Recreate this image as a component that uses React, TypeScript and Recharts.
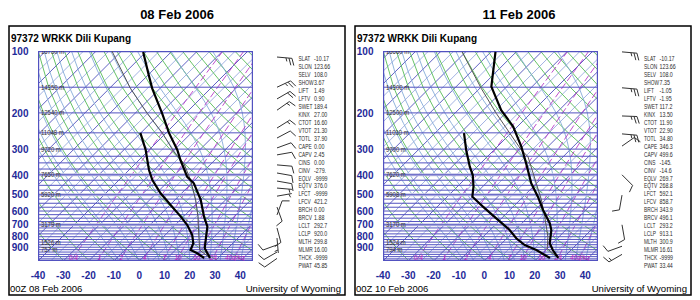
import React from 'react';
import { ComposedChart, Scatter, XAxis, YAxis } from 'recharts';

const FONT = '"Liberation Sans", Arial, Helvetica, sans-serif';

// ---------------- text content ----------------
const titles = ['08 Feb 2006', '11 Feb 2006'];
const stationName = '97372 WRKK Dili Kupang';
const footerLeft = ['00Z 08 Feb 2006', '00Z 10 Feb 2006'];
const footerRight = 'University of Wyoming';

const xTicks = [-40, -30, -20, -10, 0, 10, 20, 30, 40];
const pTicks = [100, 200, 300, 400, 500, 600, 700, 800, 900];

const indexNames = ['SLAT', 'SLON', 'SELV', 'SHOW', 'LIFT', 'LFTV', 'SWET', 'KINX', 'CTOT', 'VTOT', 'TOTL', 'CAPE', 'CAPV', 'CINS', 'CINV', 'EQLV', 'EQTV', 'LFCT', 'LFCV', 'BRCH', 'BRCV', 'LCLT', 'LCLP', 'MLTH', 'MLMR', 'THCK', 'PWAT'];
const feb08Indices = ['-10.17', '123.66', '108.0', '3.67', '1.49', '0.90', '189.4', '27.00', '16.60', '21.30', '37.90', '0.00', '2.45', '0.00', '-279.', '-9999', '376.0', '-9999', '421.2', '0.00', '1.88', '292.7', '920.0', '299.8', '16.00', '-9999', '45.85'];
const feb11Indices = ['-10.17', '123.66', '108.0', '7.35', '-1.05', '-1.95', '117.2', '13.50', '11.90', '22.90', '34.80', '346.3', '499.6', '-145.', '-14.6', '269.7', '268.8', '592.1', '858.7', '343.9', '496.1', '293.2', '913.1', '300.9', '16.61', '-9999', '33.44'];

// standard-level heights
const heightLevels = [100, 150, 200, 250, 300, 400, 500, 700, 850, 925];
const feb08Heights = ['16730 m', '14350 m', '12540 m', '11048 m', '9720 m', '7650 m', '5920 m', '3179 m', '1526 m', '757 m'];
const feb11Heights = ['16660 m', '14300 m', '12500 m', '11010 m', '9700 m', '7620 m', '5908 m', '3170 m', '1524 m', '794 m'];

// ---------------- soundings ----------------
const feb08TempP = [1015, 911, 830, 715, 639, 530, 440, 409, 339, 303, 251, 201, 152, 131, 101];
const feb08TempC = [26.8, 20.9, 18.0, 13.4, 8.1, 0.2, -9.1, -14.3, -23.6, -28.8, -38.7, -49.3, -63.1, -69.7, -81.1];
const feb08DewP = [1015, 963, 929, 861, 785, 702, 639, 561, 492, 424, 379, 339, 303, 250];
const feb08DewC = [24.5, 19.9, 16.0, 14.4, 10.7, 4.8, -1.1, -9.7, -18.3, -26.8, -32.1, -36.7, -41.3, -50.2];
const feb08ParcelP = [1015, 929, 800, 639, 530, 424, 355, 309, 251, 201, 152, 100];
const feb08ParcelC = [26.8, 19.6, 14.0, 5.7, -1.8, -11.7, -20.5, -29.5, -41.3, -55.2, -71.7, -93.8];

const feb11TempP = [1015, 929, 861, 742, 688, 593, 511, 440, 352, 292, 233, 194, 149, 101];
const feb11TempC = [28.1, 22.8, 18.9, 14.3, 11.0, 3.1, -4.2, -12.1, -22.0, -30.5, -41.7, -52.9, -66.1, -78.2];
const feb11DewP = [1015, 929, 878, 814, 742, 651, 571, 511, 457, 401, 365, 303, 251];
const feb11DewC = [24.8, 16.3, 9.7, 3.7, -2.2, -12.1, -22.0, -30.1, -33.6, -38.5, -43.0, -51.0, -58.5];
const feb11ParcelP = [1015, 913, 800, 639, 530, 440, 326, 303, 251, 201, 152, 101];
const feb11ParcelC = [28.1, 20.0, 15.6, 6.4, -1.5, -10.1, -24.0, -29.2, -40.4, -53.6, -69.4, -91.4];

// ---------------- winds ----------------
const feb08WindP = [107, 150, 171, 194, 237, 265, 296, 320, 358, 392, 429, 464, 508, 574, 627, 725, 812, 877, 950, 1020];
const feb08WindDir = [95, 65, 60, 55, 58, 62, 70, 80, 95, 100, 100, 95, 80, 160, 20, 165, 175, 250, 240, 235];
const feb08WindKt = [25, 25, 20, 15, 15, 10, 10, 10, 10, 10, 10, 5, 5, 10, 10, 10, 5, 10, 10, 10];
const feb11WindP = [101, 151, 207, 253, 290, 400, 502, 700, 890, 975];
const feb11WindDir = [95, 95, 92, 95, 55, 135, 190, 170, 250, 240];
const feb11WindKt = [25, 25, 25, 25, 10, 10, 10, 10, 10, 15];

// ---------------- diagram grid definitions ----------------
const SKEW = 81.3;
const P_BOTTOM = 1050;
const P_TOP = 100;
const X_MIN = -40;
const X_MAX = 45;
const isobarLevels = [100, 150, 200, 250, 300, 325, 350, 375, 400, 425, 450, 475, 500, 525, 550, 575, 600, 625, 650, 675, 700, 725, 750, 775, 800, 825, 850, 875, 900, 925, 950, 975, 1000, 1025, 1050];
const bandLevels = [400, 500, 700];
const isothermsMain = [-150, -140, -130, -120, -110, -100, -90, -80, -70, -60, -50, -40, -30, -20, -10, 0, 10, 20, 30, 40];
const isothermsHalf = [-145, -135, -125, -115, -105, -95, -85, -75, -65, -55, -45, -35, -25, -15, -5, 5, 15, 25, 35, 45];
const dryThetas = [230, 240, 250, 260, 270, 280, 290, 300, 310, 320, 330, 340, 350, 360, 370, 380, 390, 400, 410, 420, 430, 440, 450, 460, 470];
const moistStarts = [-8, -4, 0, 4, 8, 12, 16, 20, 24, 28, 32, 36, 40];
const mixRatios = [0.4, 1, 2, 4, 7, 10, 16, 24, 40];
const mixLabels = ['0.4', '1', '2', '4', '7', '10', '16', '24', '40g/kg'];
const gridLevels = isobarLevels;

type Pt = { x: number; p: number };
const skew = (t: number, p: number) => t + SKEW * Math.log10(P_BOTTOM / p);
const profile = (ps: number[], ts: number[]): Pt[] => ps.map((p, i) => ({ x: skew(ts[i], p), p }));

const dewFromMix = (w: number, p: number) => {
  const e = ((w / 1000) * p) / (0.622 + w / 1000);
  const l = Math.log(e / 6.112);
  return (243.5 * l) / (17.67 - l);
};
const moistLapse = (T: number, p: number) => {
  const tc = T - 273.15;
  const es = 6.112 * Math.exp((17.67 * tc) / (tc + 243.5));
  const rs = (0.622 * es) / Math.max(p - es, 1);
  return (287.04 * T + 2.501e6 * rs) / (p * (1005.7 + (2.501e6 * 2.501e6 * rs * 0.622) / (287.04 * T * T)));
};
const moistLine = (t0: number): Pt[] => {
  const pts: Pt[] = [{ x: skew(t0, P_BOTTOM), p: P_BOTTOM }];
  let T = t0 + 273.15;
  let p = P_BOTTOM;
  const dp = -5;
  while (p > P_TOP) {
    const k1 = moistLapse(T, p);
    const k2 = moistLapse(T + k1 * dp, p + dp);
    T += 0.5 * (k1 + k2) * dp;
    p += dp;
    if (p % 25 === 0) pts.push({ x: skew(T - 273.15, p), p });
  }
  return pts;
};

const isotherm = (t: number): Pt[] => [{ x: t, p: P_BOTTOM }, { x: skew(t, P_TOP), p: P_TOP }];
const dryLine = (th: number): Pt[] => gridLevels.map((p) => ({ x: skew(th * Math.pow(p / 1000, 0.2857) - 273.15, p), p }));
const mixLine = (w: number): Pt[] => gridLevels.map((p) => ({ x: skew(dewFromMix(w, p), p), p }));
const isobar = (p: number): Pt[] => [{ x: X_MIN, p }, { x: X_MAX, p }];

const COL_ISOBAR = '#5252c0';
const COL_ISO_DARK = '#3a3ab4';
const COL_ISO_LIGHT = '#a2b2e2';
const COL_DRY = '#58bc58';
const COL_MOIST = '#86acd8';
const COL_MIX = '#b430c4';
const COL_LABEL = '#1f2a99';

const Nothing = () => <g />;

const gridScatter = (pts: Pt[], key: string, stroke: string, width: number, dash?: string, opacity = 1) => (
  <Scatter
    key={key}
    data={pts}
    fill="none"
    line={{ stroke, strokeWidth: width, strokeDasharray: dash, strokeOpacity: opacity }}
    shape={Nothing}
    isAnimationActive={false}
  />
);

const XTick = (props: any) => {
  const { x, y, payload } = props;
  return (
    <text x={x} y={y + 18} textAnchor="middle" fontSize={10} fontWeight="bold" fill={COL_LABEL} fontFamily={FONT}>
      {payload.value}
    </text>
  );
};
const PTick = (props: any) => {
  const { x, y, payload } = props;
  return (
    <text x={x - 9.5} y={y + 3.7} textAnchor="end" fontSize={10} fontWeight="bold" fill={COL_LABEL} fontFamily={FONT}>
      {payload.value}
    </text>
  );
};

const HeightLabel = (props: any) => {
  const { cx, cy, payload } = props;
  if (cx == null || cy == null) return <g />;
  return (
    <text transform={`translate(${cx + 3},${cy + 2.5}) scale(0.85,1)`} fontSize={7} fill="#333" fontFamily={FONT}>
      {payload.label}
    </text>
  );
};
const MixLabel = (props: any) => {
  const { cx, cy, payload } = props;
  if (cx == null || cy == null) return <g />;
  return (
    <text x={cx} y={cy + 2.3} textAnchor="middle" fontSize={6.5} fontStyle="italic" fill="#c020c0" fontFamily={FONT}>
      {payload.label}
    </text>
  );
};

const BarbShape = (props: any) => {
  const { cx, cy, payload } = props;
  if (cx == null || cy == null) return <g />;
  const a = (payload.dir * Math.PI) / 180;
  const ux = Math.sin(a);
  const uy = -Math.cos(a);
  const px = -uy;
  const py = ux;
  const L = 15;
  const segs: number[][] = [[cx, cy, cx + ux * L, cy + uy * L]];
  let rem = payload.spd;
  let s = L;
  while (rem >= 10) {
    segs.push([cx + ux * s, cy + uy * s, cx + ux * (s + 2.5) + px * 7, cy + uy * (s + 2.5) + py * 7]);
    s -= 3;
    rem -= 10;
  }
  if (rem >= 5) {
    if (s === L) s -= 3;
    segs.push([cx + ux * s, cy + uy * s, cx + ux * (s + 1.2) + px * 3.5, cy + uy * (s + 1.2) + py * 3.5]);
  }
  return (
    <g stroke="#333" strokeWidth={1} fill="none">
      {segs.map((g, i) => (
        <line key={i} x1={g[0]} y1={g[1]} x2={g[2]} y2={g[3]} />
      ))}
    </g>
  );
};

type PanelProps = {
  left: number;
  temp: Pt[];
  dew: Pt[];
  parcel: Pt[];
  heights: string[];
  windP: number[];
  windDir: number[];
  windKt: number[];
};

const SkewPanel = ({ left, temp, dew, parcel, heights, windP, windDir, windKt }: PanelProps) => {
  const heightData = heightLevels.map((p, i) => ({ x: X_MIN, p, label: heights[i] }));
  const mixLabelData = mixRatios.map((w, i) => ({ x: skew(dewFromMix(w, 1010), 1010), p: 1010, label: mixLabels[i] }));
  const windData = windP.map((p, i) => ({ x: 0.5, p, dir: windDir[i], spd: windKt[i] }));
  return (
    <>
      <div style={{ position: 'absolute', left, top: 0, width: 350, height: 300 }}>
        <ComposedChart width={350} height={300} margin={{ top: 51, right: 97, bottom: 19, left: 8 }}>
          <XAxis
            type="number"
            dataKey="x"
            domain={[X_MIN, X_MAX]}
            allowDataOverflow
            ticks={xTicks}
            interval={0}
            height={20}
            axisLine={false}
            tickLine={false}
            tickSize={0}
            tickMargin={0}
            tick={(p: any) => <XTick {...p} />}
          />
          <YAxis
            type="number"
            dataKey="p"
            scale="log"
            domain={[P_TOP, P_BOTTOM]}
            reversed
            allowDataOverflow
            ticks={pTicks}
            interval={0}
            width={30}
            axisLine={false}
            tickLine={false}
            tickSize={0}
            tickMargin={0}
            tick={(p: any) => <PTick {...p} />}
          />
          {isothermsHalf.map((t) => gridScatter(isotherm(t), `ih${t}`, COL_ISO_LIGHT, 1))}
          {isothermsMain.map((t) => gridScatter(isotherm(t), `im${t}`, COL_ISO_DARK, 1, undefined, 0.8))}
          {dryThetas.map((th) => gridScatter(dryLine(th), `d${th}`, COL_DRY, 1, undefined, 0.9))}
          {moistStarts.map((t) => gridScatter(moistLine(t), `m${t}`, COL_MOIST, 1, undefined, 0.9))}
          {mixRatios.map((w) => gridScatter(mixLine(w), `w${w}`, COL_MIX, 1, '7 3', 0.85))}
          {bandLevels.map((p) => gridScatter(isobar(p), `b${p}`, '#c4c4e6', 3))}
          {isobarLevels.map((p) => gridScatter(isobar(p), `p${p}`, COL_ISOBAR, p === P_TOP || p === P_BOTTOM ? 2.4 : 1))}
          {gridScatter([{ x: X_MIN, p: P_BOTTOM }, { x: X_MIN, p: P_TOP }], 'eL', COL_ISOBAR, 2.4)}
          {gridScatter([{ x: X_MAX, p: P_BOTTOM }, { x: X_MAX, p: P_TOP }], 'eR', COL_ISOBAR, 2.4)}
          <Scatter data={heightData} shape={HeightLabel} isAnimationActive={false} />
          <Scatter data={mixLabelData} shape={MixLabel} isAnimationActive={false} />
          {gridScatter(parcel, 'parcel', '#555', 1)}
          {gridScatter(dew, 'dew', '#000', 2.2)}
          {gridScatter(temp, 'temp', '#000', 2.2)}
        </ComposedChart>
      </div>
      <div style={{ position: 'absolute', left: left + 257, top: 0, width: 40, height: 300 }}>
        <ComposedChart width={40} height={300} margin={{ top: 51, right: 0, bottom: 39, left: 0 }}>
          <XAxis type="number" dataKey="x" domain={[0, 1]} hide height={0} />
          <YAxis type="number" dataKey="p" scale="log" domain={[P_TOP, P_BOTTOM]} reversed hide width={0} />
          <Scatter data={windData} shape={BarbShape} isAnimationActive={false} />
        </ComposedChart>
      </div>
    </>
  );
};

const Overlay = () => {
  const boxes = [
    { x: 9, w: 336 },
    { x: 355, w: 336 },
  ];
  const titleX = [177, 519];
  const nameX = [11, 357];
  const footX = [10, 356];
  const footRX = [341, 687];
  const idxLabelX = [298.5, 644];
  const idxValueX = [314, 659.5];
  const idxVals = [feb08Indices, feb11Indices];
  return (
    <svg width={700} height={300} style={{ position: 'absolute', left: 0, top: 0 }} fontFamily={FONT}>
      {boxes.map((b, i) => (
        <rect key={`box${i}`} x={b.x} y={26} width={b.w} height={269} fill="none" stroke="#000" strokeWidth={1.5} />
      ))}
      {titles.map((t, i) => (
        <text key={`t${i}`} x={titleX[i]} y={19} textAnchor="middle" fontSize={13} fontWeight="bold" fill="#000">
          {t}
        </text>
      ))}
      {nameX.map((x, i) => (
        <text key={`n${i}`} x={x} y={41.5} fontSize={10} fontWeight="bold" fill="#000">
          {stationName}
        </text>
      ))}
      {footX.map((x, i) => (
        <text key={`f${i}`} x={x} y={292} fontSize={9.5} fill="#000">
          {footerLeft[i]}
        </text>
      ))}
      {footRX.map((x, i) => (
        <text key={`fr${i}`} x={x} y={292} textAnchor="end" fontSize={9.6} fill="#000">
          {footerRight}
        </text>
      ))}
      {idxLabelX.map((lx, k) =>
        indexNames.map((n, i) => (
          <g key={`ix${k}-${i}`} fill="#2a2a2a" fontSize={7}>
            <text transform={`translate(${lx},${60.8 + i * 7.98}) scale(0.69,1)`}>{n}</text>
            <text transform={`translate(${idxValueX[k]},${60.8 + i * 7.98}) scale(0.76,1)`}>{idxVals[k][i]}</text>
          </g>
        ))
      )}
    </svg>
  );
};

export default function App() {
  return (
    <div style={{ position: 'absolute', left: 0, top: 0, width: 700, height: 300, background: '#fff', overflow: 'hidden' }}>
      <SkewPanel
        left={0}
        temp={profile(feb08TempP, feb08TempC)}
        dew={profile(feb08DewP, feb08DewC)}
        parcel={profile(feb08ParcelP, feb08ParcelC)}
        heights={feb08Heights}
        windP={feb08WindP}
        windDir={feb08WindDir}
        windKt={feb08WindKt}
      />
      <SkewPanel
        left={345}
        temp={profile(feb11TempP, feb11TempC)}
        dew={profile(feb11DewP, feb11DewC)}
        parcel={profile(feb11ParcelP, feb11ParcelC)}
        heights={feb11Heights}
        windP={feb11WindP}
        windDir={feb11WindDir}
        windKt={feb11WindKt}
      />
      <Overlay />
    </div>
  );
}
